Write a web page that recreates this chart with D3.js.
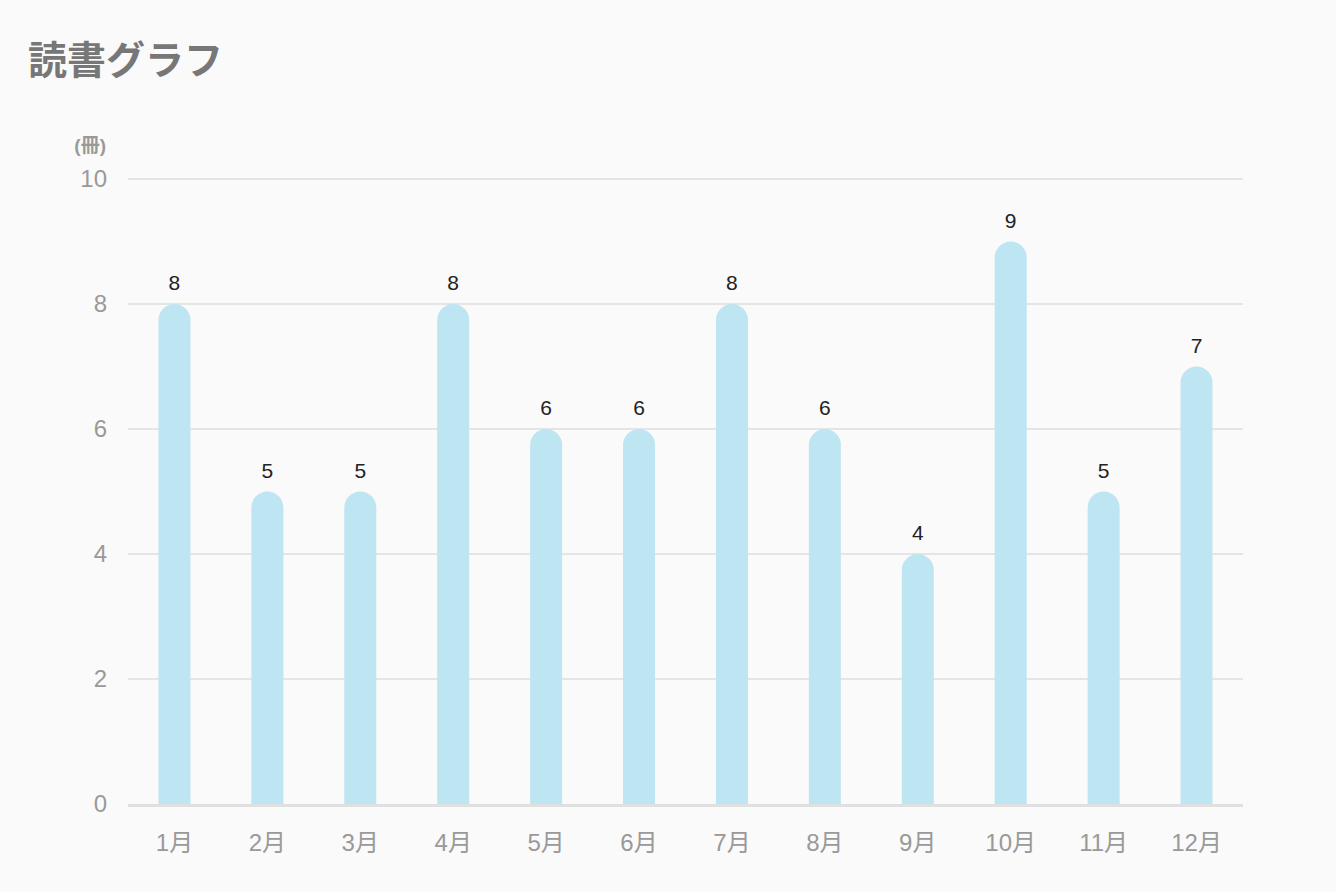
<!DOCTYPE html>
<html>
<head>
<meta charset="utf-8">
<script src="https://cdn.jsdelivr.net/npm/d3@7"></script>
<style>
  body { margin: 0; background: #fafafa; font-family: "Liberation Sans", "Noto Sans CJK JP", sans-serif; }
</style>
</head>
<body>
<script>
// reading data
let months = ["1月", "2月", "3月", "4月", "5月", "6月", "7月", "8月", "9月", "10月", "11月", "12月"];
let books = [8, 5, 5, 8, 6, 6, 8, 6, 4, 9, 5, 7];
let yTicks = [0, 2, 4, 6, 8, 10];

let W = 1336, H = 892;
let margins = { left: 128, top: 179, right: 93, bottom: 88 };
let width = W - margins.left - margins.right;
let height = H - margins.top - margins.bottom;

let svg = d3.select("body").append("svg")
  .attr("width", W)
  .attr("height", H)
  .style("background", "#fafafa");

// title
svg.append("text")
  .attr("x", 28).attr("y", 74)
  .text("読書グラフ")
  .attr("font-size", 39)
  .attr("font-weight", "bold")
  .attr("fill", "#777")
  .attr("font-family", "'Noto Sans CJK JP', sans-serif");

let container = svg.append("g")
  .attr("transform", `translate(${margins.left}, ${margins.top})`);

let xScale = d3.scaleBand()
  .domain(months)
  .range([0, width]);
let yScale = d3.scaleLinear()
  .domain([0, 10])
  .range([height, 0]);

// grid lines
container.selectAll("line.grid")
  .data(yTicks.filter(d => d > 0))
  .join("line")
  .classed("grid", true)
  .attr("x1", 0).attr("x2", width)
  .attr("y1", d => yScale(d)).attr("y2", d => yScale(d))
  .attr("stroke", "#dedede")
  .attr("stroke-width", 1.5);

// y-axis labels
let yAxis = d3.axisLeft(yScale).tickValues(yTicks).tickSize(0).tickPadding(21);
let yAxisG = container.append("g").call(yAxis);
yAxisG.select(".domain").remove();
yAxisG.selectAll("text")
  .attr("font-size", 24)
  .attr("fill", "#999")
  .attr("font-family", "'Liberation Sans', sans-serif");

// unit label
svg.append("text")
  .attr("x", 106).attr("y", 152)
  .attr("text-anchor", "end")
  .text("(冊)")
  .attr("font-size", 19)
  .attr("font-weight", "bold")
  .attr("fill", "#999")
  .attr("font-family", "'Liberation Sans', 'Noto Sans CJK JP', sans-serif");

// bars with rounded top
let barW = 32, r = 16;
container.selectAll("path.bar")
  .data(books)
  .join("path")
  .classed("bar", true)
  .attr("fill", "#bee5f2")
  .attr("d", (d, i) => {
    let x0 = xScale(months[i]) + xScale.bandwidth() / 2 - barW / 2;
    let y0 = yScale(d), y1 = yScale(0);
    return `M${x0},${y1} L${x0},${y0 + r} A${r},${r} 0 0 1 ${x0 + barW},${y0 + r} L${x0 + barW},${y1} Z`;
  });

// value labels
container.selectAll("text.val")
  .data(books)
  .join("text")
  .classed("val", true)
  .attr("x", (d, i) => xScale(months[i]) + xScale.bandwidth() / 2)
  .attr("y", d => yScale(d) - 14)
  .attr("text-anchor", "middle")
  .attr("font-size", 21)
  .attr("fill", "#222")
  .attr("font-family", "'Liberation Sans', sans-serif")
  .text(d => d);

// baseline
container.append("line")
  .attr("x1", 0).attr("x2", width)
  .attr("y1", yScale(0) + 1.5).attr("y2", yScale(0) + 1.5)
  .attr("stroke", "#e0e0e0")
  .attr("stroke-width", 3);

// x-axis labels
let xAxis = d3.axisBottom(xScale).tickSize(0).tickPadding(30);
let xAxisG = container.append("g")
  .attr("transform", `translate(0, ${height})`)
  .call(xAxis);
xAxisG.select(".domain").remove();
xAxisG.selectAll("text")
  .attr("font-size", 24)
  .attr("fill", "#999")
  .attr("font-family", "'Liberation Sans', 'Noto Sans CJK JP', sans-serif");
</script>
</body>
</html>
